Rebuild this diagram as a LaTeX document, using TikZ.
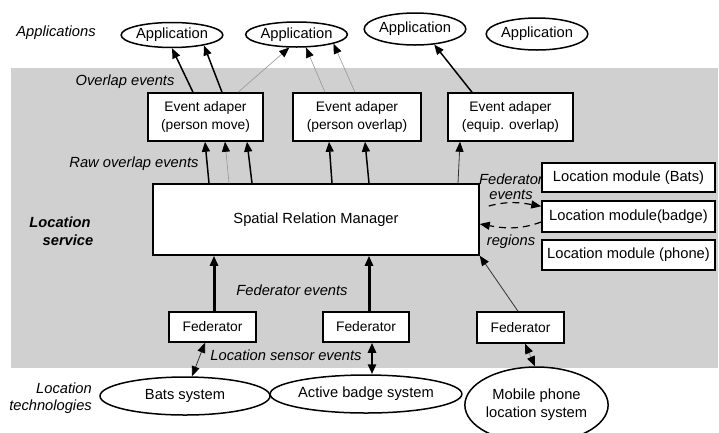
\documentclass[tikz,border=0pt]{standalone}
\usepackage{fontspec}
\setmainfont{Liberation Sans}
\usetikzlibrary{arrows.meta,shapes.geometric}
\definecolor{bggray}{RGB}{208,208,208}
\definecolor{lgray}{RGB}{150,150,150}
\begin{document}
\begin{tikzpicture}[x=1pt,y=-1pt,
  font=\fontsize{14.7}{17}\selectfont,
  box/.style={draw=black,line width=1.5pt,fill=white,inner sep=0pt,align=center},
  sbox/.style={box,font=\fontsize{13.8}{18}\selectfont},
  oval/.style={draw=black,line width=1.5pt,fill=white,ellipse,inner sep=0pt,align=center},
  lbl/.style={font=\fontsize{14.7}{17}\selectfont\itshape,inner sep=0pt},
  blbl/.style={font=\fontsize{14.7}{17}\selectfont\bfseries\itshape,inner sep=0pt},
  tipend/.style={-{Triangle[length=10pt,width=8pt,color=black]}},
  tipboth/.style={{Triangle[length=10pt,width=8pt,color=black]}-{Triangle[length=10pt,width=8pt,color=black]}},
  thickl/.style={line width=3pt,draw=black},
  medl/.style={line width=1.5pt,draw=black},
  thinb/.style={line width=0.8pt,draw=black!80},
  thing/.style={line width=0.6pt,draw=lgray},
  dashl/.style={line width=1.2pt,draw=black,dash pattern=on 7pt off 5pt}
]
\clip (0,0) rectangle (719,432);
\fill[white] (0,0) rectangle (719,432);
\fill[bggray] (11,68) rectangle (718,368);

% applications
\node[oval,minimum width=92pt,minimum height=25pt] (app1) at (172,35) {Application};
\node[oval,minimum width=101pt,minimum height=25pt] (app2) at (296.5,34.5) {Application};
\node[oval,minimum width=96pt,minimum height=32pt] (app3) at (415,29) {Application};
\node[oval,minimum width=100pt,minimum height=32pt] (app4) at (537,34) {Application};

% event adapters
\node[sbox,minimum width=115pt,minimum height=48pt] (ea1) at (205.5,117) {Event adaper\\(person move)};
\node[sbox,minimum width=128pt,minimum height=48pt] (ea2) at (357,117) {Event adaper\\(person overlap)};
\node[sbox,minimum width=125pt,minimum height=48pt] (ea3) at (510.5,117) {Event adaper\\(equip. overlap)};

% spatial relation manager
\node[box,minimum width=326pt,minimum height=71pt] (srm) at (316,219.5) {Spatial Relation Manager};

% location modules
\node[box,minimum width=173pt,minimum height=29pt] (lmbats) at (628.5,177.5) {Location module (Bats)};
\node[box,minimum width=173pt,minimum height=31pt] (lmb) at (628.5,216.5) {Location module(badge)};
\node[box,minimum width=173pt,minimum height=30pt] (lmp) at (628.5,255) {Location module (phone)};

% federators
\node[sbox,minimum width=87pt,minimum height=30pt] (fed1) at (212.5,327) {Federator};
\node[sbox,minimum width=86pt,minimum height=30pt] (fed2) at (366,327) {Federator};
\node[sbox,minimum width=87pt,minimum height=31pt] (fed3) at (520.5,327.5) {Federator};

% location technologies
\node[oval,minimum width=170pt,minimum height=38pt] (bats) at (185,396) {Bats system};
\node[oval,minimum width=172pt,minimum height=38pt] (abs) at (366,394) {Active badge system};
\node[oval,minimum width=123pt,minimum height=76pt,font=\fontsize{14.7}{18}\selectfont] (mob) at (536.5,405) {Mobile phone\\location system};

% location module exchange (drawn under labels)
\draw[dashl,tipend] ([xshift=9pt,yshift=13.5pt]srm.east) to[out=15,in=170] ([yshift=-6pt]lmb.north west);
\draw[dashl,tipend] ([yshift=-5.5pt]lmb.west) to[out=200,in=-10] ([yshift=-4.5pt]srm.east);

% labels
\node[lbl] (tApps) at (56,33) {Applications};
\node[lbl] (tOv) at (125,82) {Overlap events};
\node[lbl] (tRaw) at (134,164) {Raw overlap events};
\node[blbl] (tLoc1) at (60,222) {Location};
\node[blbl] (tLoc2) at (68,240) {service};
\node[lbl,align=center,font=\fontsize{14.7}{15}\selectfont\itshape] (tFedE) at (511,187) {Federator\\events};
\node[lbl] (tReg) at (511,242) {regions};
\node[lbl] (tFed2) at (292,290) {Federator events};
\node[lbl] (tLse) at (286,355) {Location sensor events};
\node[lbl,align=right,anchor=east] (tTech) at (92,398) {Location\\technologies};

% SRM -> event adapters
\draw[medl,tipend] ([xshift=-107pt]srm.north) -- ([xshift=-0.5pt]ea1.south);
\draw[thing,tipend] ([xshift=-87pt]srm.north) -- ([xshift=19.5pt]ea1.south);
\draw[medl,tipend] ([xshift=-64pt]srm.north) -- ([xshift=41.5pt]ea1.south);
\draw[medl,tipend] ([xshift=16pt]srm.north) -- ([xshift=-28pt]ea2.south);
\draw[medl,tipend] ([xshift=53pt]srm.north) -- ([xshift=8pt]ea2.south);
\draw[thinb,tipend] ([xshift=142pt]srm.north) -- ([xshift=-50.5pt]ea3.south);

% event adapters -> applications
\draw[medl,tipend] ([xshift=-12.5pt]ea1.north) -- (app1.south);
\draw[medl,tipend] ([xshift=16.5pt]ea1.north) -- (app1.-18);
\draw[thing,tipend] ([xshift=32.5pt]ea1.north) -- (app2.-119);
\draw[thing,tipend] ([xshift=-32pt]ea2.north) -- (app2.-54);
\draw[thing,tipend] ([xshift=-2pt]ea2.north) -- (app2.-14);
\draw[medl,tipend] ([xshift=-38.5pt]ea3.north) -- (app3.-39);

% federators -> SRM
\draw[thickl,tipend] ([xshift=1.5pt]fed1.north) -- ([xshift=-102pt]srm.south);
\draw[thickl,tipend] ([xshift=3pt]fed2.north) -- ([xshift=53pt]srm.south);
\draw[thinb,tipend] ([xshift=-2.5pt]fed3.north) -- (srm.south east);

% federators <-> technologies
\draw[thinb,tipboth] ([xshift=-7.5pt]fed1.south) -- ([xshift=7pt]bats.north);
\draw[line width=2.5pt,draw=black,tipboth] ([xshift=6pt]fed2.south) -- ([xshift=6pt]abs.north);
\draw[line width=1pt,draw=lgray,tipboth] ([xshift=4.5pt]fed3.south) -- ([xshift=-1.5pt]mob.north);
\end{tikzpicture}
\end{document}
